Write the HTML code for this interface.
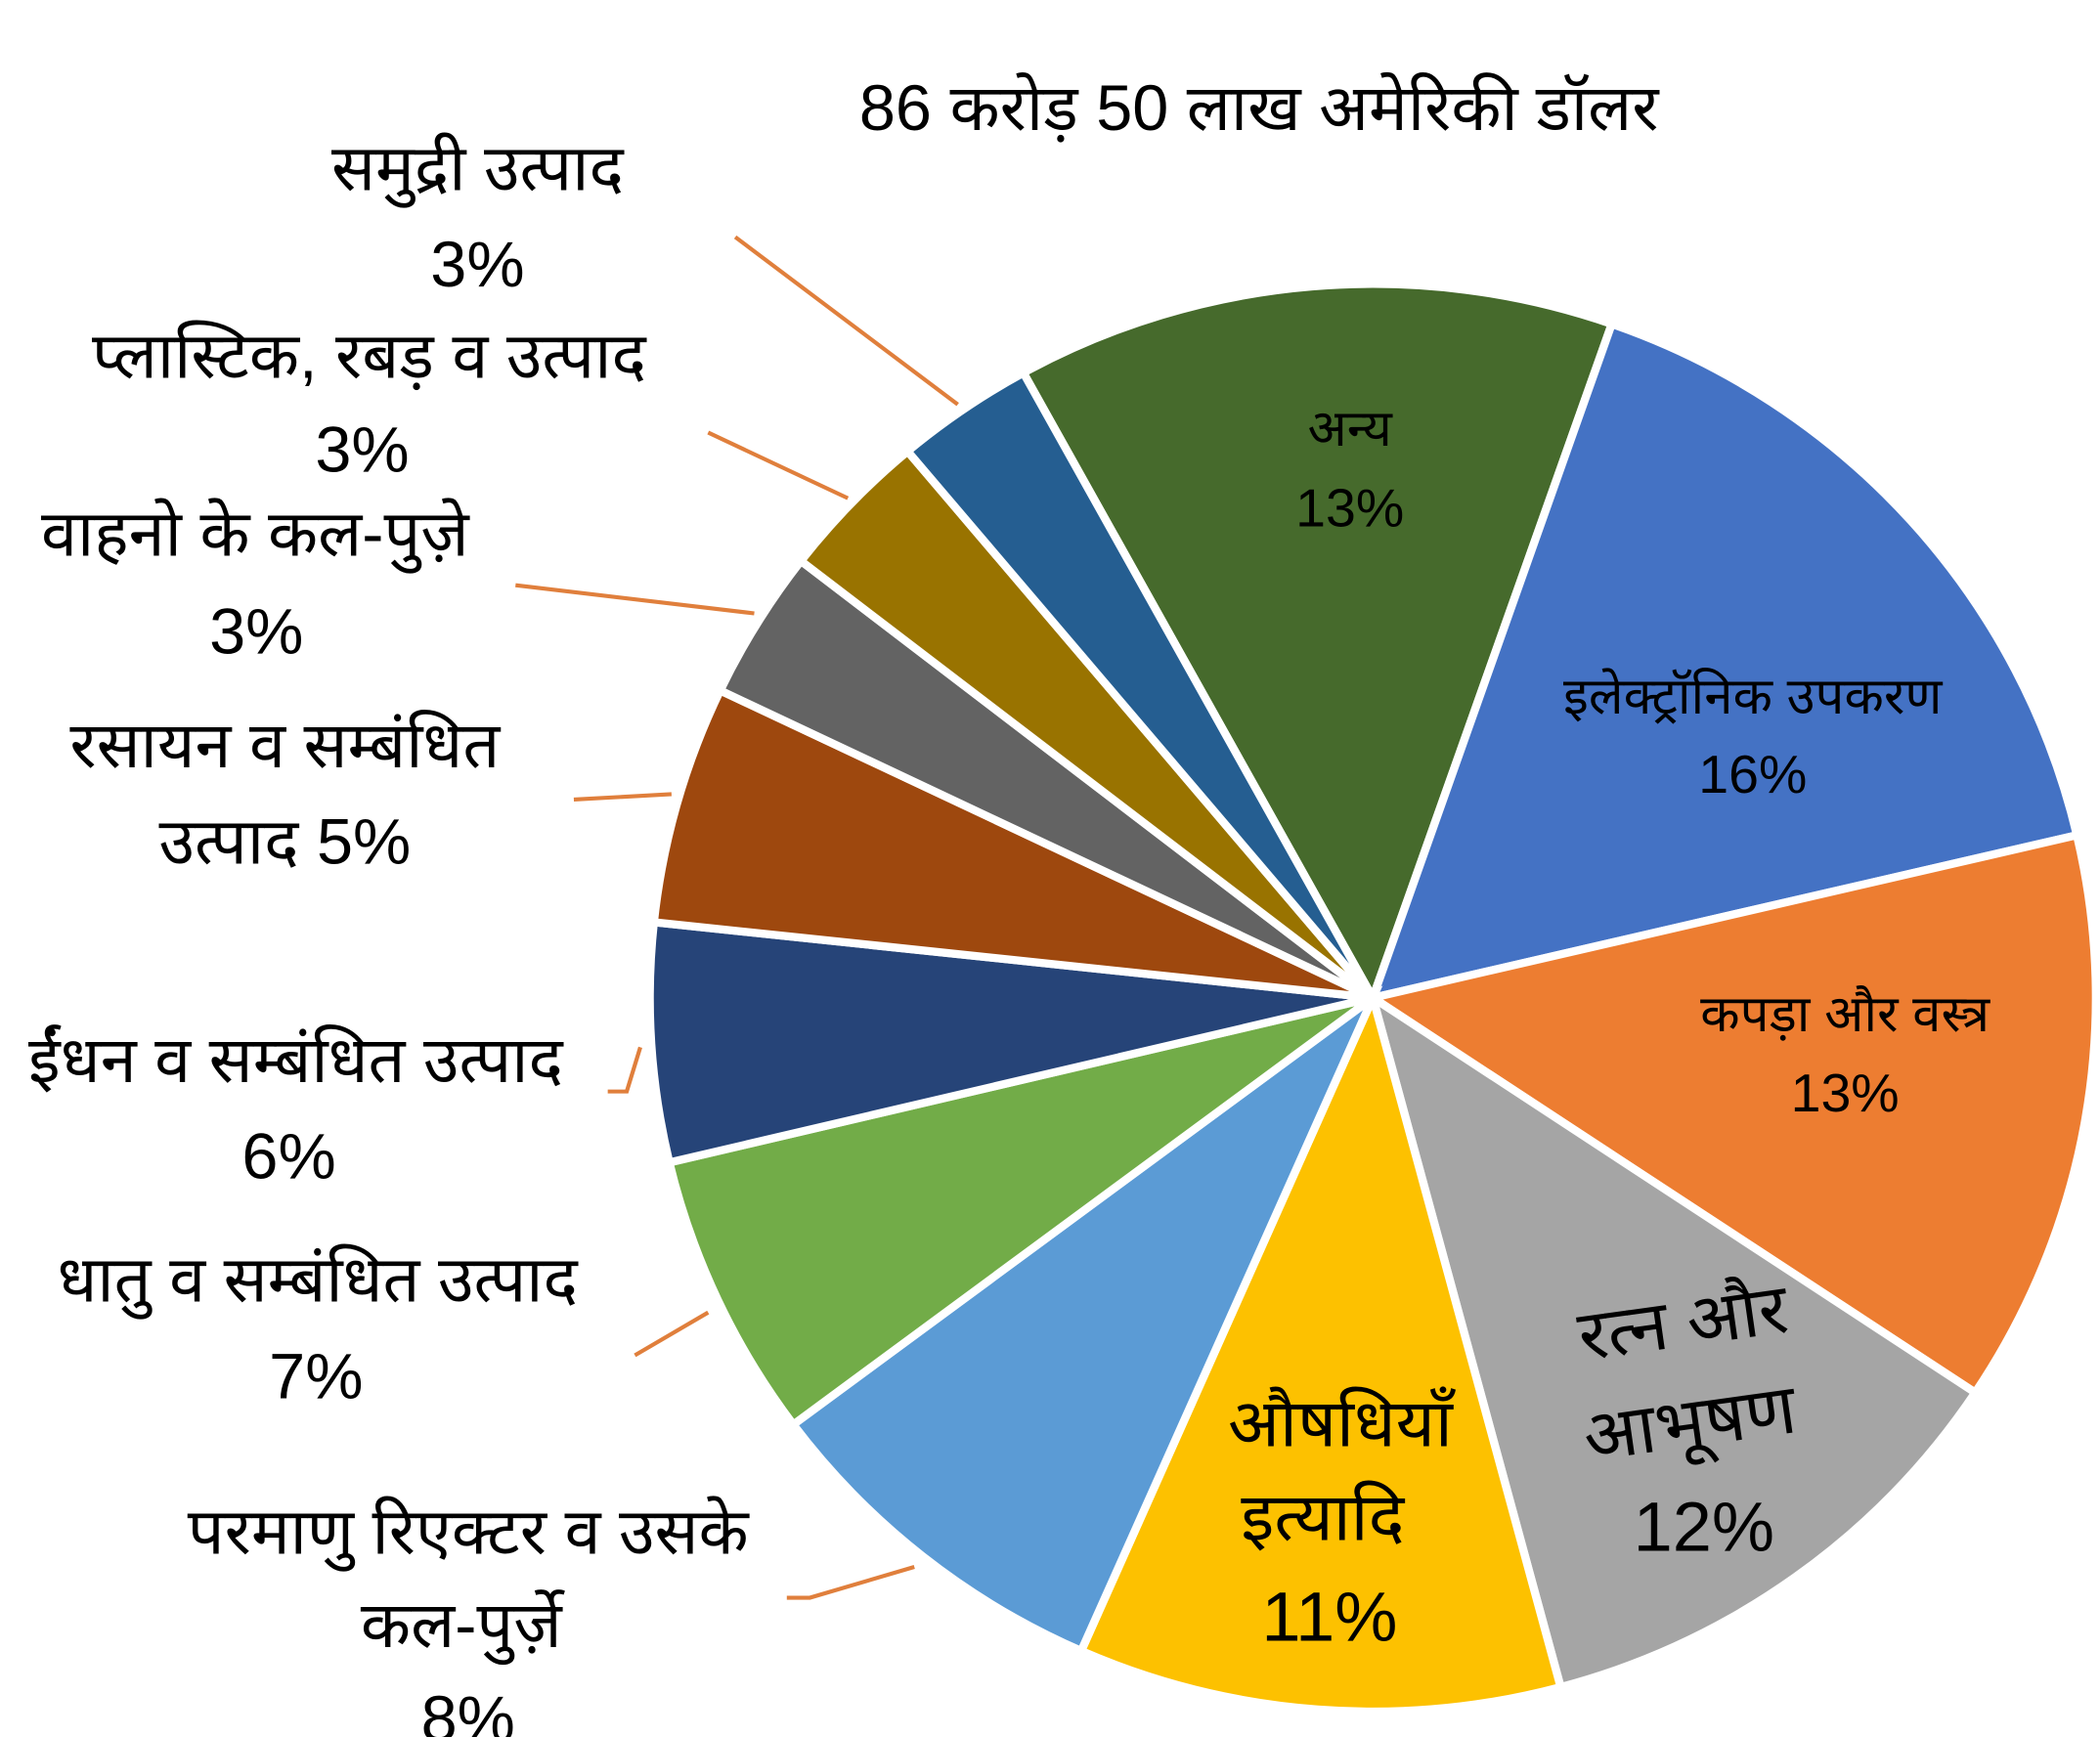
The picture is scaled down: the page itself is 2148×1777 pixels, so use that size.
<!DOCTYPE html>
<html><head><meta charset="utf-8"><style>
html,body{margin:0;padding:0;background:#fff;}
svg{display:block;}
text{font-family:"Liberation Sans","Noto Sans Devanagari","Lohit Devanagari","FreeSans",sans-serif;fill:#000;}
</style></head><body>
<svg id="chart" width="2148" height="1777" viewBox="0 0 1548 1297" preserveAspectRatio="none" xmlns="http://www.w3.org/2000/svg">
<text x="928" y="97" font-size="48" text-anchor="middle">86 करोड़ 50 लाख अमेरिकी डॉलर</text>
<g id="slices"></g>
<g id="leaders" stroke="#e07f3c" stroke-width="3" fill="none">
<polyline points="542,177 706,302"/>
<polyline points="522,323 625,372"/>
<polyline points="380,437 556,458"/>
<polyline points="423,597 495,593"/>
<polyline points="448,815 462,815 472,782"/>
<polyline points="468,1012 522,980"/>
<polyline points="580,1193 597,1193 674,1170"/>
</g>
<g font-size="48" text-anchor="middle">
<text x="352" y="142">समुद्री उत्पाद</text>
<text x="352" y="214">3%</text>
<text x="272" y="282">प्लास्टिक, रबड़ व उत्पाद</text>
<text x="267" y="352">3%</text>
<text x="188" y="415">वाहनो के कल-पुज़े</text>
<text x="189" y="488">3%</text>
<text x="210" y="573">रसायन व सम्बंधित</text>
<text x="210" y="645">उत्पाद 5%</text>
<text x="218" y="808">ईंधन व सम्बंधित उत्पाद</text>
<text x="213" y="880">6%</text>
<text x="234" y="972">धातु व सम्बंधित उत्पाद</text>
<text x="233" y="1044">7%</text>
<text x="345" y="1160">परमाणु रिएक्टर व उसके</text>
<text x="340" y="1230">कल-पुर्ज़े</text>
<text x="345" y="1300">8%</text>
</g>
<g text-anchor="middle">
<text x="995" y="333" font-size="38">अन्य</text>
<text x="995" y="393" font-size="40">13%</text>
<text x="1292" y="533" font-size="38">इलेक्ट्रॉनिक उपकरण</text>
<text x="1292" y="592" font-size="40">16%</text>
<text x="1360" y="770" font-size="38">कपड़ा और वस्त्र</text>
<text x="1360" y="830" font-size="40">13%</text>
<text x="1243" y="1005" font-size="52" transform="rotate(-8 1243 1005)">रत्न और</text>
<text x="1248" y="1080" font-size="52" transform="rotate(-8 1248 1080)">आभूषण</text>
<text x="1256" y="1158" font-size="52">12%</text>
<text x="988" y="1080" font-size="50">औषधियाँ</text>
<text x="975" y="1150" font-size="50">इत्यादि</text>
<text x="980" y="1225" font-size="52">11%</text>
</g>
</svg>
<script>
const categories = ["अन्य","इलेक्ट्रॉनिक उपकरण","कपड़ा और वस्त्र","रत्न और आभूषण","औषधियाँ इत्यादि","परमाणु रिएक्टर व उसके कल-पुर्ज़े","धातु व सम्बंधित उत्पाद","ईंधन व सम्बंधित उत्पाद","रसायन व सम्बंधित उत्पाद","वाहनो के कल-पुज़े","प्लास्टिक, रबड़ व उत्पाद","समुद्री उत्पाद"];
const values = [13.4, 16, 13, 11.5, 10.8, 8.2, 6.5, 5.4, 5.4, 3.4, 3.4, 3.1];
const colors = ["#466a2c","#4472c4","#ed7d31","#a5a5a5","#fdc100","#5b9bd5","#72ac48","#264478","#9e480e","#636363","#997300","#255e91"];
const startDeg = 331.1;
const cx = 1012, cy = 745, r = 533;
const g = document.getElementById('slices');
const total = values.reduce((a,b)=>a+b,0);
function pt(deg){const a=(deg-90)*Math.PI/180;return [cx+r*Math.cos(a), cy+r*Math.sin(a)];}
let acc = startDeg;
values.forEach((v,i)=>{
  const span = v/total*360;
  const p1 = pt(acc), p2 = pt(acc+span);
  const large = span>180?1:0;
  const path = document.createElementNS('http://www.w3.org/2000/svg','path');
  path.setAttribute('d',`M${cx},${cy} L${p1[0]},${p1[1]} A${r},${r} 0 ${large} 1 ${p2[0]},${p2[1]} Z`);
  path.setAttribute('fill',colors[i]);
  path.setAttribute('stroke','#fff');
  path.setAttribute('stroke-width','6');
  
  
  g.appendChild(path);
  acc += span;
});
</script>
</body></html>
